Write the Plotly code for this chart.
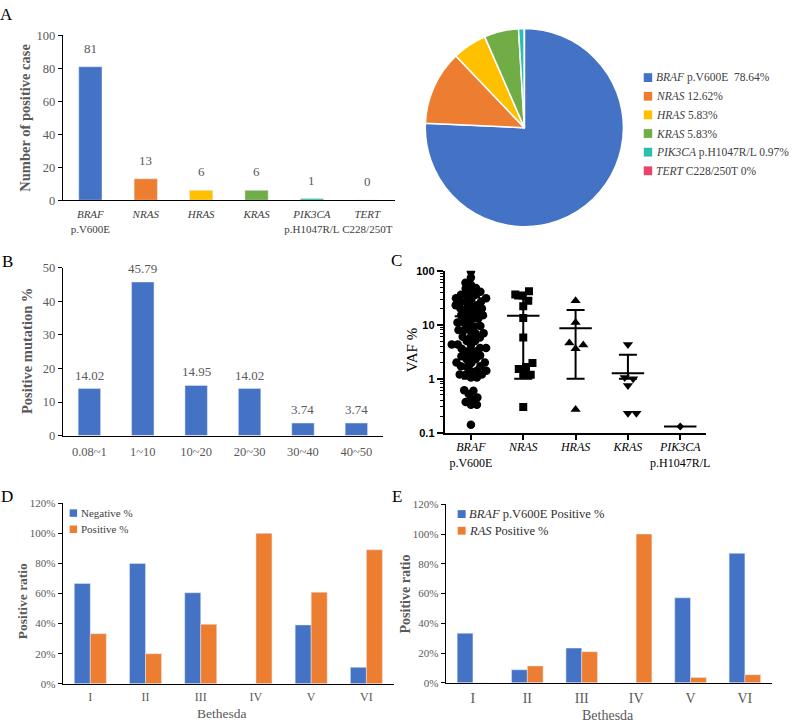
import math
import plotly.graph_objects as go

# ---------------- data ----------------
# Panel A / pie
genes = ["BRAF", "NRAS", "HRAS", "KRAS", "PIK3CA", "TERT"]
gene_variants = ["p.V600E", "", "", "", "p.H1047R/L", "C228/250T"]
positive_cases = [81, 13, 6, 6, 1, 0]
pie_legend_pct = ["78.64%", "12.62%", "5.83%", "5.83%", "0.97%", "0%"]
gene_colors = ["#4472C4", "#ED7D31", "#FFC000", "#70AD47", "#2BBFAE", "#E8446A"]

# Panel B
vaf_bins = ["0.08~1", "1~10", "10~20", "20~30", "30~40", "40~50"]
mutation_pct = [14.02, 45.79, 14.95, 14.02, 3.74, 3.74]

# Panel C (VAF %, per gene)
c_genes = ["BRAF", "NRAS", "HRAS", "KRAS", "PIK3CA"]
c_variants = ["p.V600E", "", "", "", "p.H1047R/L"]
vaf_braf = [98, 75, 60, 55, 48, 47, 42, 41, 36, 36, 35, 31, 31, 30, 27, 27, 26,
            23, 23, 22, 20, 20, 19, 17, 17, 15, 15, 14.5, 13, 13, 11, 11, 10.5,
            9.5, 9.3, 8, 8, 7.8, 7, 6.9, 6, 6, 5.8, 5, 5, 4.3, 4.3, 4.2, 3.7, 3.7,
            3.6, 3.2, 3.2, 2.7, 2.7, 2.6, 2.3, 2.3, 2, 2, 1.95, 1.7, 1.7, 1.65, 1.4,
            1.4, 1.38, 1.2, 1.2, 1.18, 1.05, 1.05,
            0.61, 0.52, 0.6, 0.42, 0.45, 0.33, 0.33, 0.37, 0.14]
vaf_nras = [42, 36.6, 35, 28, 22, 13.4, 5.8, 1.95, 1.65, 1.52, 1.18, 1.18, 0.3]
vaf_hras = [28, 11, 4.2, 4.6, 3.6, 0.27]
vaf_kras = [4.3, 1.0, 1.05, 0.75, 0.23, 0.23]
vaf_pik3ca = [0.13]
c_symbols = ["circle", "square", "triangle-up", "triangle-down", "diamond"]

# Panel D
bethesda = ["I", "II", "III", "IV", "V", "VI"]
negative_pct = [66.7, 80.0, 60.5, 0.0, 39.1, 10.9]
positive_pct = [33.3, 20.0, 39.5, 100.0, 60.9, 89.1]

# Panel E
braf_positive_pct = [33.3, 8.7, 23.3, 0.0, 57.1, 87.0]
ras_positive_pct = [0.0, 11.3, 20.9, 100.0, 3.6, 5.4]

# ---------------- helpers ----------------
W, H = 794, 728
SERIF = "Liberation Serif, Times New Roman, serif"
GRAY = "#595959"
BLUE, ORANGE = "#4472C4", "#ED7D31"


def px(x):
    return x / W


def py(y):
    return 1 - y / H


def dom_x(a, b):
    return [px(a), px(b)]


def dom_y(top, bottom):
    return [py(bottom), py(top)]


fig = go.Figure()
annotations = []
shapes = []


def text(x, y, s, size=13, color="black", angle=0, xanchor="center", yanchor="middle", weight=None, family=SERIF):
    f = dict(family=family, size=size, color=color)
    if weight:
        f["weight"] = weight
    annotations.append(dict(x=px(x), y=py(y), xref="paper", yref="paper", text=s, showarrow=False,
                            font=f, textangle=angle, xanchor=xanchor, yanchor=yanchor))


def cat_label(g, v):
    return f"<i>{g}</i>" + (f"<br>{v}" if v else "")


# ---------------- Panel A bar ----------------
fig.add_trace(go.Bar(x=genes, y=positive_cases, marker_color=gene_colors, width=0.42,
                     xaxis="x", yaxis="y", showlegend=False))
for g, v in zip(genes, positive_cases):
    annotations.append(dict(x=g, y=v, xref="x", yref="y", text=str(v), showarrow=False, yanchor="bottom",
                            yshift=9, font=dict(family=SERIF, size=13, color=GRAY)))

# ---------------- Pie ----------------
fig.add_trace(go.Pie(labels=genes, values=positive_cases, marker=dict(colors=gene_colors, line=dict(color="white", width=1.5)),
                     sort=False, direction="clockwise", rotation=0, textinfo="none", showlegend=False,
                     domain=dict(x=dom_x(426, 628), y=dom_y(22, 224)), hoverinfo="label+value"))
for i, (g, v, c, p) in enumerate(zip(genes, gene_variants, gene_colors, pie_legend_pct)):
    label = f"<i>{g}</i>" + (f" {v}" if v else "") + ("  " if i == 0 else " ") + p
    yy = 72 + i * 19
    shapes.append(dict(type="rect", xref="paper", yref="paper", x0=px(647), x1=px(655.5), y0=py(yy + 4.5), y1=py(yy - 4.5),
                       fillcolor=c, line=dict(width=0)))
    text(657, yy, label, size=11.5, color="#404040", xanchor="left")

# ---------------- Panel B ----------------
fig.add_trace(go.Bar(x=vaf_bins, y=mutation_pct, marker_color=BLUE, width=0.42, xaxis="x2", yaxis="y2", showlegend=False))
for b, v in zip(vaf_bins, mutation_pct):
    annotations.append(dict(x=b, y=v, xref="x2", yref="y2", text=f"{v:.2f}", showarrow=False, yanchor="bottom",
                            yshift=4, font=dict(family=SERIF, size=13, color=GRAY)))

# ---------------- Panel C ----------------
C_X0, C_X1, C_TOP, C_BOT = 447, 710, 269, 434
PPD = (C_BOT - C_TOP) / 3.0  # px per decade
PPC = (C_X1 - C_X0) / 5.0    # px per category


def beeswarm(values, diam):
    ys = [math.log10(v) * PPD for v in values]
    order = sorted(range(len(values)), key=lambda i: ys[i])
    placed = []
    offs = [0.0] * len(values)
    cands = [0.0]
    for k in range(1, 400):
        cands += [k * 0.25, -k * 0.25]
    for i in order:
        y = ys[i]
        for c in cands:
            if all((c - a) ** 2 + (y - b) ** 2 >= diam ** 2 for a, b in placed):
                break
        placed.append((c, y))
        offs[i] = c / PPC
    return offs


groups = [vaf_braf, vaf_nras, vaf_hras, vaf_kras, vaf_pik3ca]
sizes = [8.5, 8, 9, 9, 6]
diams = [5.8, 7.5, 8.5, 8.5, 6]
for gi, vals in enumerate(groups):
    offs = beeswarm(vals, diams[gi])
    fig.add_trace(go.Scatter(x=[gi + o for o in offs], y=vals, mode="markers", xaxis="x3", yaxis="y3",
                             marker=dict(symbol=c_symbols[gi], size=sizes[gi], color="black", line=dict(width=0)),
                             showlegend=False))
for gi, vals in enumerate(groups):
    n = len(vals)
    mean = sum(vals) / n
    fig.add_trace(go.Scatter(x=[gi - 0.31, gi + 0.31], y=[mean, mean], mode="lines", xaxis="x3", yaxis="y3",
                             line=dict(color="black", width=2), showlegend=False, hoverinfo="skip"))
    if n > 1:
        sd = math.sqrt(sum((v - mean) ** 2 for v in vals) / (n - 1))
        low = max(mean - sd, 1.0)
        fig.add_trace(go.Scatter(x=[gi], y=[mean], mode="markers", xaxis="x3", yaxis="y3",
                                 marker=dict(size=1, color="rgba(0,0,0,0)"), showlegend=False, hoverinfo="skip",
                                 error_y=dict(type="data", symmetric=False, array=[sd], arrayminus=[mean - low],
                                              color="black", thickness=2, width=9)))

# ---------------- Panel D ----------------
fig.add_trace(go.Bar(x=bethesda, y=negative_pct, marker_color=BLUE, name="Negative %", xaxis="x4", yaxis="y4", showlegend=False))
fig.add_trace(go.Bar(x=bethesda, y=positive_pct, marker_color=ORANGE, name="Positive %", xaxis="x4", yaxis="y4", showlegend=False))
for i, (nm, c) in enumerate([("Negative %", BLUE), ("Positive %", ORANGE)]):
    yy = 516 + i * 16.5
    shapes.append(dict(type="rect", xref="paper", yref="paper", x0=px(70), x1=px(77.5), y0=py(yy + 3.8), y1=py(yy - 3.8),
                       fillcolor=c, line=dict(width=0)))
    text(79.5, yy, nm, size=11, color="#404040", xanchor="left")

# ---------------- Panel E ----------------
fig.add_trace(go.Bar(x=bethesda, y=braf_positive_pct, marker_color=BLUE, xaxis="x5", yaxis="y5", showlegend=False))
fig.add_trace(go.Bar(x=bethesda, y=ras_positive_pct, marker_color=ORANGE, xaxis="x5", yaxis="y5", showlegend=False))
for i, (nm, c) in enumerate([("<i>BRAF</i> p.V600E Positive %", BLUE), ("<i>RAS</i> Positive %", ORANGE)]):
    yy = 517 + i * 17
    shapes.append(dict(type="rect", xref="paper", yref="paper", x0=px(460), x1=px(468), y0=py(yy + 4), y1=py(yy - 4),
                       fillcolor=c, line=dict(width=0)))
    text(469.5, yy, nm, size=12.5, color="#303030", xanchor="left")

# ---------------- axes ----------------
base_y = dict(showgrid=False, zeroline=False, showline=True, linecolor="black", linewidth=1, ticks="outside",
              ticklen=4, tickcolor="black", tickfont=dict(family=SERIF, size=12.5, color=GRAY))
base_x = dict(showgrid=False, zeroline=False, showline=True, linecolor="black", linewidth=1, ticks="",
              tickangle=0, tickfont=dict(family=SERIF, size=13, color=GRAY))

fig.update_layout(
    width=W, height=H, margin=dict(l=0, r=0, t=0, b=0), paper_bgcolor="white", plot_bgcolor="white",
    bargap=0.42, bargroupgap=0, barmode="group",
    xaxis=dict(base_x, domain=dom_x(63, 397), anchor="y", tickvals=genes,
               ticktext=[cat_label(g, v) for g, v in zip(genes, gene_variants)],
               tickfont=dict(family=SERIF, size=11, color="#404040"), ticklabelstandoff=4),
    yaxis=dict(base_y, domain=dom_y(29, 197), anchor="x", range=[0, 100], dtick=20),
    xaxis2=dict(base_x, domain=dom_x(63, 385), anchor="y2", tickfont=dict(family=SERIF, size=12.5, color=GRAY),
                ticklabelstandoff=4),
    yaxis2=dict(base_y, domain=dom_y(266, 437), anchor="x2", range=[0, 50], dtick=10),
    xaxis3=dict(domain=dom_x(C_X0, C_X1), anchor="y3", range=[-0.5, 4.5], tickvals=list(range(5)),
                ticktext=[cat_label(g, v) for g, v in zip(c_genes, c_variants)], showgrid=False, zeroline=False,
                showline=True, linecolor="black", linewidth=2, ticks="outside", ticklen=5, tickwidth=2, tickangle=0,
                tickcolor="black", tickfont=dict(family=SERIF, size=12, color="black"), ticklabelstandoff=-3),
    yaxis3=dict(domain=dom_y(C_TOP, C_BOT), anchor="x3", type="log", range=[-1, 2], tickvals=[0.1, 1, 10, 100],
                ticktext=["0.1", "1", "10", "100"], showgrid=False, zeroline=False, showline=True, linecolor="black",
                linewidth=2, ticks="outside", ticklen=6, tickwidth=2, tickcolor="black",
                tickfont=dict(family="Liberation Sans, Arial, sans-serif", size=11, color="black", weight=700),
                minor=dict(ticks="outside", ticklen=3, tickwidth=1, tickcolor="black", dtick="D1", showgrid=False)),
    xaxis4=dict(base_x, domain=dom_x(63, 396), anchor="y4", tickfont=dict(family=SERIF, size=12, color=GRAY),
                ticklabelstandoff=2),
    yaxis4=dict(base_y, domain=dom_y(506, 690), anchor="x4", range=[0, 120], dtick=20, ticksuffix="%",
                tickfont=dict(family=SERIF, size=11, color=GRAY)),
    xaxis5=dict(base_x, domain=dom_x(448, 776), anchor="y5", tickfont=dict(family=SERIF, size=14, color=GRAY),
                ticklabelstandoff=2),
    yaxis5=dict(base_y, domain=dom_y(507, 689), anchor="x5", range=[0, 120], dtick=20, ticksuffix="%",
                tickfont=dict(family=SERIF, size=11, color=GRAY)),
)

# axis titles & panel letters
text(25, 113, "Number of positive case", size=14.5, color=GRAY, angle=-90, weight="bold")
text(27, 351, "Positive mutation %", size=14.5, color=GRAY, angle=-90, weight="bold")
text(414, 350, "VAF %", size=15, color="black", angle=-90)
text(22, 606, "Positive ratio", size=13.5, color=GRAY, angle=-90, weight="bold")
text(408, 598, "Positive ratio", size=14, color=GRAY, angle=-90, weight="bold")
text(223, 720, "Bethesda", size=13.5, color=GRAY)
text(611, 722, "Bethesda", size=14, color=GRAY)
for lab, (x, y) in zip(["A", "B", "C", "D", "E"], [(7, 8), (8, 259), (399, 258), (7, 499), (399, 499)]):
    text(x, y, lab, size=17, color="black")

fig.update_layout(annotations=annotations, shapes=shapes)
fig.write_html("out.html")
